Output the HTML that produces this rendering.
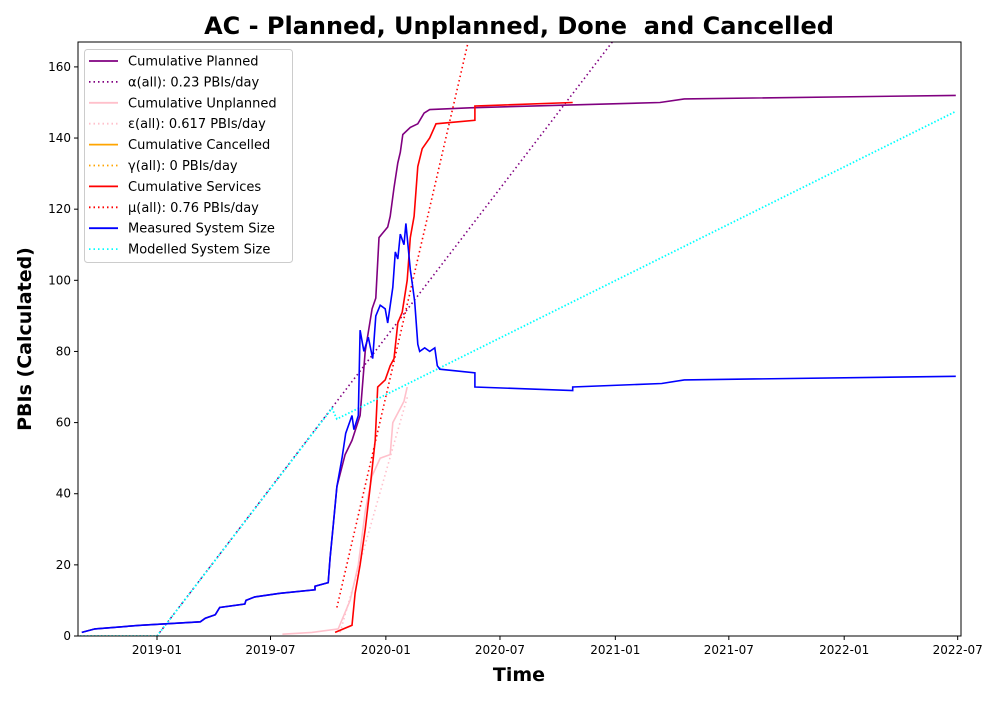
<!DOCTYPE html>
<html><head><meta charset="utf-8"><style>
body{margin:0;background:#fff;font-family:"Liberation Sans","DejaVu Sans",sans-serif}
svg text{font-family:"DejaVu Sans","Liberation Sans",sans-serif;white-space:pre}
</style></head><body>
<svg id="c" width="1000" height="700" xmlns="http://www.w3.org/2000/svg"></svg>
<script>
// days since 2019-01-01
const tickDays=[0,181,365,547,731,912,1096,1277];
const tickLabels=["2019-01","2019-07","2020-01","2020-07","2021-01","2021-07","2022-01","2022-07"];
const yTicks=[0,20,40,60,80,100,120,140,160];
const measuredDays=[-120,-99,-27,69,77,93,100,140,142,156,196,252,252,273,276,281,287,295,301,311,314,321,324,330,337,344,349,356,364,368,376,380,384,388,394,397,404,408,411,416,419,427,435,443,447,451,507,507,663,663,805,841,1274];
const measuredVals=[1,2,3,4,5,6,8,9,10,11,12,13,14,15,22,31,42,50,57,62,58,62,86,80,84,78,90,93,92,88,98,108,106,113,110,116,103,98,94,82,80,81,80,81,76,75,74,70,69,70,71,72,73];
const plannedDays=[-120,-99,-27,69,77,93,100,140,142,156,196,252,252,273,276,281,287,300,311,324,332,343,349,354,368,372,378,384,388,392,404,416,426,435,499,802,841,1274];
const plannedVals=[1,2,3,4,5,6,8,9,10,11,12,13,14,15,22,31,42,51,55,62,80,92,95,112,115,118,126,133,136,141,143,144,147,148,148.5,150,151,152];
const servicesDays=[284,311,316,324,332,340,348,352,364,372,378,384,391,399,404,410,416,423,435,445,507,507,663];
const servicesVals=[1,3,12,20,30,42,55,70,72,76,78,88,91,100,112,118,132,137,140,144,145,149,150];
const unplannedDays=[200,247,289,308,321,332,343,356,372,376,388,394,399];
const unplannedVals=[0.5,1,2,10,20,35,45,50,51,60,64,66,70];
const alpha=0.23, epsilon=0.617, mu=0.76;
const modelDays=[-123,0,279,287,1274];
const modelVals=[0,0,64,61,147.5];

const L=78,R=961,T=42,B=636,YMAX=167;
const X=d=>157+d*0.627, Y=v=>B-v*(B-T)/YMAX;
const svg=document.getElementById('c'),NS="http://www.w3.org/2000/svg";
function mk(t,a,p){const e=document.createElementNS(NS,t);for(const k in a)e.setAttribute(k,a[k]);(p||svg).appendChild(e);return e;}
const clip=mk('clipPath',{id:'cp'});mk('rect',{x:L,y:T,width:R-L,height:B-T},clip);
const g=mk('g',{'clip-path':'url(#cp)'});
function line(ds,vs,color,name,dash,w){
  const pts=ds.map((d,i)=>X(d).toFixed(1)+','+Y(vs[i]).toFixed(1)).join(' ');
  const e=mk('polyline',{points:pts,fill:'none',stroke:color,'stroke-width':w||1.6,'stroke-dasharray':dash||'none'},g);
  
  
}
function fit(d0,v0,d1,slope,color,name){
  const ds=[d0,d1],vs=[v0,v0+slope*(d1-d0)];
  line(ds,vs,color,name,'1.5,3',1.6);
}
line(unplannedDays,unplannedVals,'pink','cumulative-unplanned-line');
fit(292,1,400,epsilon,'pink','epsilon-fit-line');
fit(0,0,760,alpha,'purple','alpha-fit-line');
line(plannedDays,plannedVals,'purple','cumulative-planned-line');
line(servicesDays,servicesVals,'red','cumulative-services-line');
fit(287,8,510,mu,'red','mu-fit-line');
line(modelDays,modelVals,'cyan','modelled-system-size-line','1.5,2',1.8);
line(measuredDays,measuredVals,'blue','measured-system-size-line');

const fr=mk('rect',{x:L,y:T,width:R-L,height:B-T,fill:'none',stroke:'#000','stroke-width':1});

tickDays.forEach((d,i)=>{const x=X(d);mk('line',{x1:x,x2:x,y1:B,y2:B+4,stroke:'#000'});
 const t=mk('text',{x:x,y:B+18,'font-size':12,'text-anchor':'middle'});t.textContent=tickLabels[i];
 });
yTicks.forEach(v=>{const y=Y(v);mk('line',{x1:L-4,x2:L,y1:y,y2:y,stroke:'#000'});
 const t=mk('text',{x:L-7,y:y+4,'font-size':12,'text-anchor':'end'});t.textContent=v;
 });
let t=mk('text',{x:519,y:34,'font-size':24,'font-weight':'bold','text-anchor':'middle'});t.textContent="AC - Planned, Unplanned, Done  and Cancelled";

t=mk('text',{x:519,y:681,'font-size':19,'font-weight':'bold','text-anchor':'middle'});t.textContent="Time";

t=mk('text',{x:31,y:339,'font-size':19,'font-weight':'bold','text-anchor':'middle',transform:'rotate(-90 31 339)'});t.textContent="PBIs (Calculated)";


const leg=mk('g',{});
mk('rect',{x:84.5,y:49.5,width:208,height:213,rx:3,fill:'#fff','fill-opacity':0.85,stroke:'#ccc'},leg);
const items=[["Cumulative Planned","purple",0],["α(all): 0.23 PBIs/day","purple",1],["Cumulative Unplanned","pink",0],["ε(all): 0.617 PBIs/day","pink",1],["Cumulative Cancelled","orange",0],["γ(all): 0 PBIs/day","orange",1],["Cumulative Services","red",0],["μ(all): 0.76 PBIs/day","red",1],["Measured System Size","blue",0],["Modelled System Size","cyan",1]];
items.forEach((it,i)=>{const y=61+i*20.9;
 const e=mk('g',{},leg);
 mk('line',{x1:89,x2:118,y1:y,y2:y,stroke:it[1],'stroke-width':1.8,'stroke-dasharray':it[2]?'1.5,3':'none'},e);
 const tx=mk('text',{x:128,y:y+4.5,'font-size':13},e);tx.textContent=it[0];});
</script>
</body></html>
